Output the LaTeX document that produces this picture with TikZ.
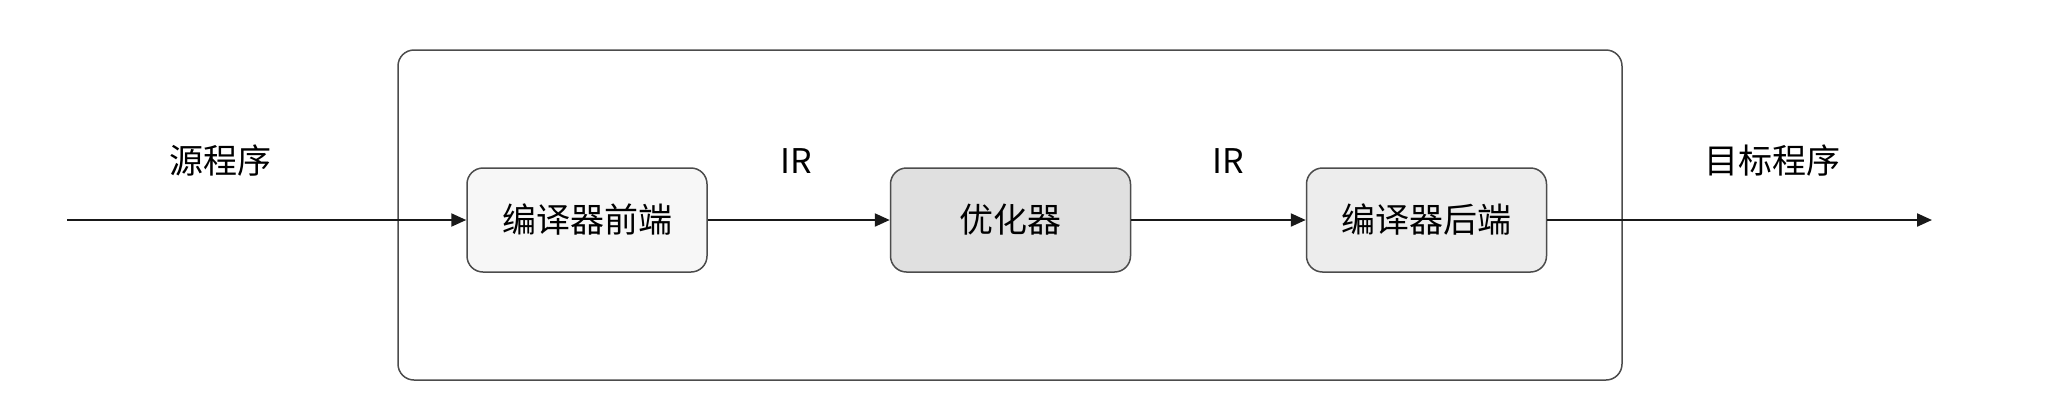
\documentclass[tikz,border=0pt]{standalone}
\usepackage{fontspec}
\setmainfont{Noto Sans CJK SC}
\usetikzlibrary{arrows.meta}
\begin{document}
\begin{tikzpicture}[x=1pt,y=-1pt,
  stagebox/.style={draw=black!70, line width=1.5pt, rounded corners=16pt, minimum width=240pt, minimum height=104pt, inner sep=0pt, font=\fontsize{34}{40}\selectfont},
  lbl/.style={font=\fontsize{34}{40}\selectfont, inner sep=0pt},
  conn/.style={line width=2.2pt, draw=black!90, -{Triangle[length=15pt,width=13pt]}}]
\useasboundingbox[fill=white] (0,0) rectangle (2046,416);
\node[draw=black!70, line width=1.5pt, rounded corners=16pt, minimum width=1224pt, minimum height=330pt, inner sep=0pt] (outer) at (1010,215) {};
\node[stagebox, fill=black!3] (fe) at (587,220) {编译器前端};
\node[stagebox, fill=black!12] (opt) at (1010.5,220) {优化器};
\node[stagebox, fill=black!7] (be) at (1426.5,220) {编译器后端};
\coordinate (in) at (67,220);
\coordinate (out) at (1932,220);
\draw[conn] (in) -- (fe.west);
\draw[conn] (fe.east) -- (opt.west);
\draw[conn] (opt.east) -- (be.west);
\draw[conn] (be.east) -- (out);
\node[lbl] (src) at (220,161) {源程序};
\node[lbl] (ir1) at (796,161) {IR};
\node[lbl] (ir2) at (1228,161) {IR};
\node[lbl] (tgt) at (1772,161) {目标程序};
\end{tikzpicture}
\end{document}
